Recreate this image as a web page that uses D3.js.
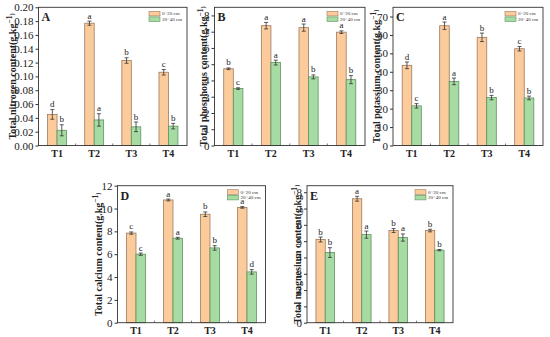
<!DOCTYPE html>
<style>
    body { margin: 0; background: #fff; }
    svg { font-family: 'Liberation Serif', serif; }
    .axis .domain { display: none; }
</style>
<svg width="550" height="337"></svg>
<script src="https://cdnjs.cloudflare.com/ajax/libs/d3/7.8.5/d3.min.js"></script>
<script>
    // data
    var treatments = ["T1", "T2", "T3", "T4"];
    var depths = ["0~20 cm", "20~40 cm"];

    var nitrogenTop = [0.045, 0.177, 0.123, 0.106];
    var nitrogenTopErr = [0.007, 0.003, 0.004, 0.004];
    var nitrogenSub = [0.022, 0.037, 0.027, 0.028];
    var nitrogenSubErr = [0.008, 0.009, 0.007, 0.004];
    var nitrogenTopLetters = ["d", "a", "b", "c"];
    var nitrogenSubLetters = ["b", "a", "b", "b"];

    var phosphorusTop = [4.72, 7.37, 7.25, 6.97];
    var phosphorusTopErr = [0.05, 0.2, 0.22, 0.08];
    var phosphorusSub = [3.5, 5.1, 4.22, 4.05];
    var phosphorusSubErr = [0.05, 0.15, 0.12, 0.25];
    var phosphorusTopLetters = ["b", "a", "a", "a"];
    var phosphorusSubLetters = ["c", "a", "b", "b"];

    var potassiumTop = [43.5, 65, 58.7, 52.5];
    var potassiumTopErr = [1.8, 2, 2.3, 1.2];
    var potassiumSub = [21.5, 34.8, 26, 25.8];
    var potassiumSubErr = [1.2, 1.8, 1.2, 1];
    var potassiumTopLetters = ["d", "a", "b", "c"];
    var potassiumSubLetters = ["c", "a", "b", "b"];

    var calciumTop = [7.85, 10.75, 9.5, 10.1];
    var calciumTopErr = [0.1, 0.08, 0.2, 0.07];
    var calciumSub = [6.0, 7.4, 6.55, 4.45];
    var calciumSubErr = [0.1, 0.08, 0.2, 0.2];
    var calciumTopLetters = ["c", "a", "b", "a"];
    var calciumSubLetters = ["c", "a", "b", "d"];

    var magnesiumTop = [5.1, 7.6, 5.65, 5.65];
    var magnesiumTopErr = [0.15, 0.15, 0.12, 0.08];
    var magnesiumSub = [4.3, 5.4, 5.22, 4.45];
    var magnesiumSubErr = [0.3, 0.22, 0.22, 0.04];
    var magnesiumTopLetters = ["b", "a", "b", "b"];
    var magnesiumSubLetters = ["b", "a", "a", "b"];

    var fills = ["#FCCB9C", "#A6DCA4"];
    var strokes = ["#9C7A5E", "#5E935C"];

    var svg = d3.select("svg");

    function drawPanel(p) {
        var width = p.right - p.left,
            height = p.bottom - p.top;
        var g = svg.append("g").attr("transform", "translate(" + p.left + "," + p.top + ")");

        var x = d3.scaleBand().domain(treatments).range([0, width]);
        var bw = x.bandwidth();
        var x1 = d3.scaleBand().domain(depths).range([bw / 2 - bw * 0.255, bw / 2 + bw * 0.255]);
        var y = d3.scaleLinear().domain([0, p.max]).range([height, 0]);

        var rows = [];
        treatments.forEach(function (t, i) {
            rows.push({t: t, s: depths[0], v: p.top0[i], e: p.top0Err[i], l: p.top0Letters[i], k: 0});
            rows.push({t: t, s: depths[1], v: p.sub[i], e: p.subErr[i], l: p.subLetters[i], k: 1});
        });

        g.selectAll("rect.bar")
            .data(rows)
            .enter().append("rect")
            .attr("class", "bar")
            .attr("x", function (d) { return x(d.t) + x1(d.s); })
            .attr("y", function (d) { return y(d.v); })
            .attr("width", x1.bandwidth())
            .attr("height", function (d) { return y(0) - y(d.v); })
            .attr("fill", function (d) { return fills[d.k]; })
            .attr("stroke", function (d) { return strokes[d.k]; })
            .attr("stroke-width", 0.8);

        // error bars
        var err = g.selectAll("g.err")
            .data(rows)
            .enter().append("g")
            .attr("class", "err")
            .attr("stroke", "#333")
            .attr("stroke-width", 0.8);
        err.append("line")
            .attr("x1", function (d) { return x(d.t) + x1(d.s) + x1.bandwidth() / 2; })
            .attr("x2", function (d) { return x(d.t) + x1(d.s) + x1.bandwidth() / 2; })
            .attr("y1", function (d) { return y(d.v - d.e); })
            .attr("y2", function (d) { return y(d.v + d.e); });
        [-1, 1].forEach(function (sgn) {
            err.append("line")
                .attr("x1", function (d) { return x(d.t) + x1(d.s) + x1.bandwidth() / 2 - 2; })
                .attr("x2", function (d) { return x(d.t) + x1(d.s) + x1.bandwidth() / 2 + 2; })
                .attr("y1", function (d) { return y(d.v + sgn * d.e); })
                .attr("y2", function (d) { return y(d.v + sgn * d.e); });
        });

        // significance letters
        g.selectAll("text.sig")
            .data(rows)
            .enter().append("text")
            .attr("class", "sig")
            .attr("x", function (d) { return x(d.t) + x1(d.s) + x1.bandwidth() / 2; })
            .attr("y", function (d) { return y(d.v + d.e) - 2.5; })
            .attr("text-anchor", "middle")
            .attr("font-size", 9)
            .attr("fill", "#222")
            .text(function (d) { return d.l; });

        // axes
        g.append("g")
            .attr("class", "axis")
            .call(d3.axisLeft(y).tickValues(p.ticks).tickFormat(p.fmt).tickSize(3).tickPadding(2))
            .call(function (a) {
                a.selectAll("text").attr("font-size", 11).attr("fill", "#222")
                    .attr("font-family", "'Liberation Serif', serif");
                a.selectAll("line").attr("stroke", "#333");
            });

        g.append("g")
            .attr("class", "axis")
            .attr("transform", "translate(0," + height + ")")
            .call(d3.axisBottom(x).tickSize(0).tickPadding(4))
            .call(function (a) {
                a.selectAll("text").attr("font-size", 10).attr("font-weight", "bold").attr("fill", "#222")
                    .attr("font-family", "'Liberation Serif', serif");
            });

        // small marks between groups
        g.selectAll("line.minor")
            .data(treatments.slice(1))
            .enter().append("line")
            .attr("class", "minor")
            .attr("x1", function (d) { return x(d); })
            .attr("x2", function (d) { return x(d); })
            .attr("y1", height)
            .attr("y2", height - 2)
            .attr("stroke", "#555")
            .attr("stroke-width", 0.8);

        // frame
        g.append("rect")
            .attr("width", width)
            .attr("height", height)
            .attr("fill", "none")
            .attr("stroke", "#333")
            .attr("stroke-width", 0.9);

        // panel letter
        g.append("text")
            .attr("x", 3)
            .attr("y", 14)
            .attr("font-size", 12)
            .attr("font-weight", "bold")
            .attr("fill", "#222")
            .text(p.letter);

        // legend
        var legend = g.selectAll("g.legend")
            .data(depths)
            .enter().append("g")
            .attr("class", "legend")
            .attr("transform", function (d, i) { return "translate(" + (width - 38) + "," + (4 + i * 5.6) + ")"; });
        legend.append("rect")
            .attr("width", 11)
            .attr("height", 4.6)
            .attr("fill", function (d, i) { return fills[i]; })
            .attr("stroke", function (d, i) { return strokes[i]; })
            .attr("stroke-width", 0.6);
        legend.append("text")
            .attr("x", 13)
            .attr("y", 2.3)
            .attr("dy", "0.35em")
            .attr("font-size", 5)
            .attr("fill", "#333")
            .text(function (d) { return d; });

        // y axis title
        var title = svg.append("text")
            .attr("transform", "translate(" + p.labelX + "," + (p.top + height / 2) + ") rotate(-90)")
            .attr("text-anchor", "middle")
            .attr("dy", "0.35em")
            .attr("font-size", 10)
            .attr("font-weight", "bold")
            .attr("fill", "#222");
        title.append("tspan").text(p.label + "(g.kg");
        title.append("tspan").attr("baseline-shift", "super").attr("font-size", 7.5).text("\u22121");
        title.append("tspan").attr("font-size", 6.5).attr("dy", "-0.3em").text(")");
    }

    drawPanel({letter: "A", left: 38.5, right: 187, top: 7.3, bottom: 145.5, max: 0.2,
        ticks: d3.range(0, 0.201, 0.02), fmt: d3.format(".2f"), labelX: 12.5,
        label: "Total nitrogen content",
        top0: nitrogenTop, top0Err: nitrogenTopErr, sub: nitrogenSub, subErr: nitrogenSubErr,
        top0Letters: nitrogenTopLetters, subLetters: nitrogenSubLetters});

    drawPanel({letter: "B", left: 214.5, right: 365, top: 7.3, bottom: 145.5, max: 8.5,
        ticks: d3.range(0, 9, 1), fmt: d3.format("d"), labelX: 203,
        label: "Total phosphorus content",
        top0: phosphorusTop, top0Err: phosphorusTopErr, sub: phosphorusSub, subErr: phosphorusSubErr,
        top0Letters: phosphorusTopLetters, subLetters: phosphorusSubLetters});

    drawPanel({letter: "C", left: 393, right: 543, top: 7.3, bottom: 145.5, max: 75,
        ticks: d3.range(0, 71, 10), fmt: d3.format("d"), labelX: 376,
        label: "Total potassium content",
        top0: potassiumTop, top0Err: potassiumTopErr, sub: potassiumSub, subErr: potassiumSubErr,
        top0Letters: potassiumTopLetters, subLetters: potassiumSubLetters});

    drawPanel({letter: "D", left: 117.5, right: 265.5, top: 185.7, bottom: 322.7, max: 12,
        ticks: d3.range(0, 13, 2), fmt: d3.format("d"), labelX: 98,
        label: "Total calcium content",
        top0: calciumTop, top0Err: calciumTopErr, sub: calciumSub, subErr: calciumSubErr,
        top0Letters: calciumTopLetters, subLetters: calciumSubLetters});

    drawPanel({letter: "E", left: 307, right: 453, top: 185.7, bottom: 322.7, max: 8.4,
        ticks: d3.range(0, 9, 1), fmt: d3.format("d"), labelX: 297,
        label: "Total magnesium content",
        top0: magnesiumTop, top0Err: magnesiumTopErr, sub: magnesiumSub, subErr: magnesiumSubErr,
        top0Letters: magnesiumTopLetters, subLetters: magnesiumSubLetters});
</script>
